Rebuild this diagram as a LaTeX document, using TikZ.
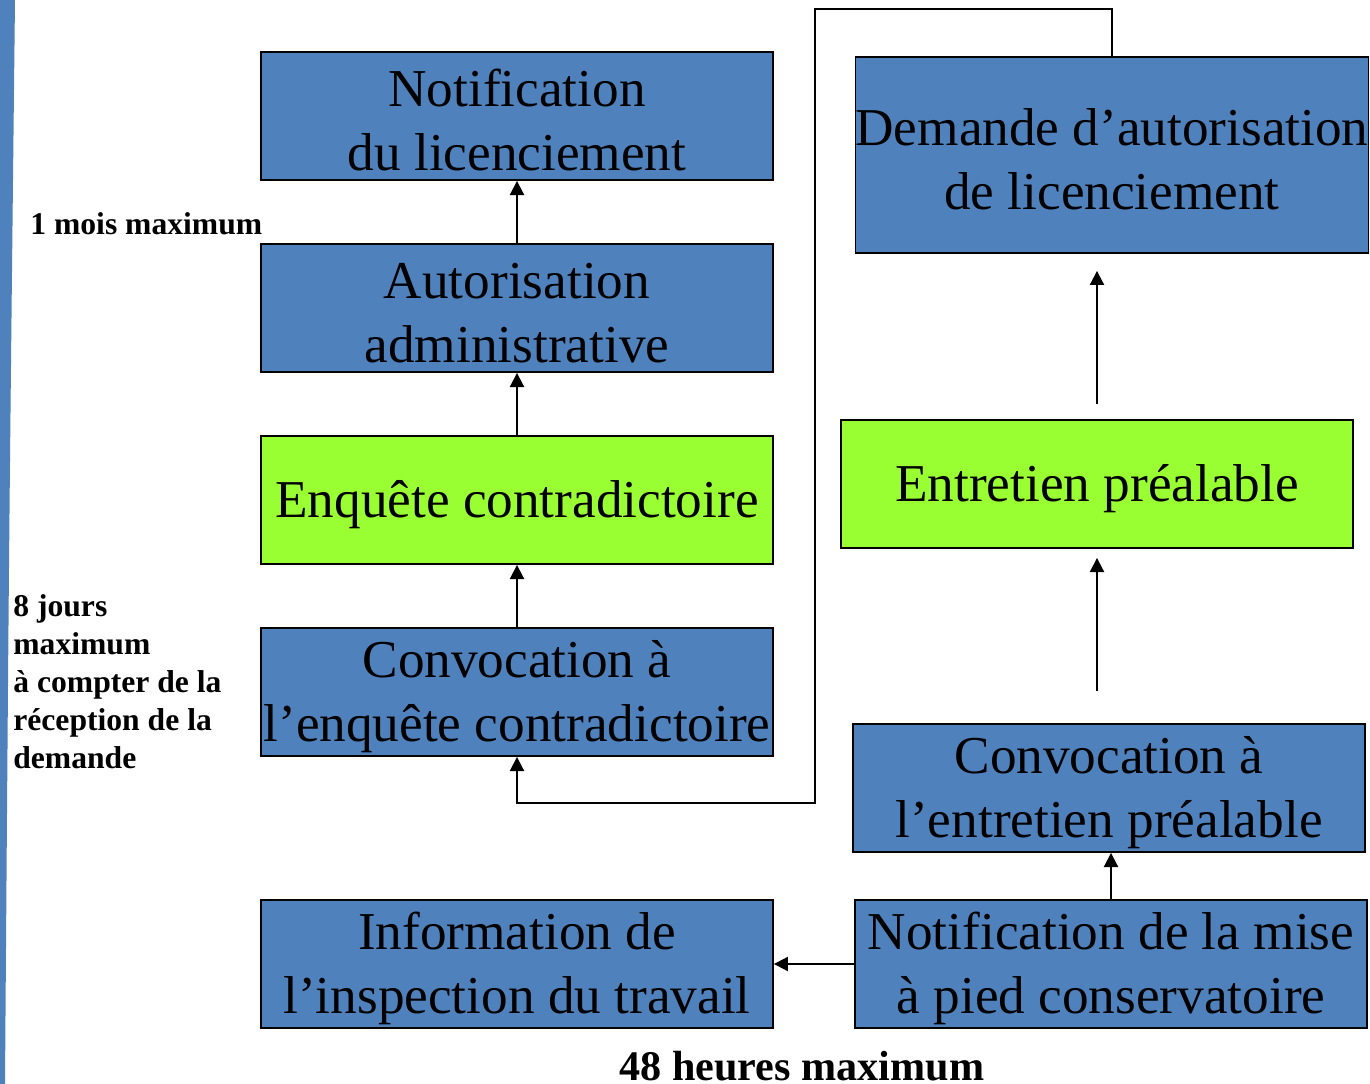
\documentclass[tikz,border=0pt]{standalone}
\usepackage{fontspec}
\setmainfont{Liberation Serif}
\usetikzlibrary{positioning,arrows.meta}
\definecolor{boxblue}{RGB}{79,129,189}
\definecolor{boxgreen}{RGB}{153,255,51}
\newcommand{\boxfont}{\fontsize{30.3}{36.4}\selectfont}
\newcommand{\notefont}{\bfseries\fontsize{18}{21.6}\selectfont}
\newcommand{\topstrut}{\rule{0pt}{26pt}}
\tikzset{
  bbox/.style={draw=black,line width=1.1pt,fill=boxblue,minimum width=10.24cm,minimum height=2.56cm,inner sep=0pt,align=center,font=\boxfont},
  gbox/.style={bbox,fill=boxgreen},
  arr/.style={-{Triangle[length=8pt,width=8pt]},line width=1.1pt},
  note/.style={font=\notefont,align=left,inner sep=0pt},
  every picture/.style={x=0.02cm,y=-0.02cm}
}
\begin{document}
\begin{tikzpicture}
  \useasboundingbox (0,0) rectangle (1370,1084);
  \fill[boxblue] (0,0) -- (15,0) .. controls (9,540) .. (5,1084) -- (0,1084) -- cycle;
  % left column
  \node[bbox] (notif) at (517,116) {\topstrut Notification\\du licenciement};
  \node[bbox] (autor) at (517,308) {\topstrut Autorisation\\administrative};
  \node[gbox] (enq) at (517,500) {\topstrut Enquête contradictoire};
  \node[bbox] (convenq) at (517,692) {\topstrut Convocation à\\l’enquête contradictoire};
  \node[bbox] (info) at (517,964) {\topstrut Information de\\l’inspection du travail};
  % right column
  \node[bbox,minimum height=3.92cm] (demande) at (1112,155) {\topstrut Demande d’autorisation\\de licenciement};
  \node[gbox] (entretien) at (1097,484) {\topstrut Entretien préalable};
  \node[bbox] (conventr) at (1109,788) {\topstrut Convocation à\\l’entretien préalable};
  \node[bbox] (miseap) at (1111,964) {\topstrut Notification de la mise\\à pied conservatoire};
  % delays
  \node[note,anchor=west] (lmois) at (30,224) {1 mois maximum};
  \node[note,anchor=west] (ljours) at (13,682) {8 jours\\maximum\\à compter de la\\réception de la\\demande};
  \node[note,font=\bfseries\fontsize{24}{28}\selectfont,anchor=base] (lheures) at (802,1080) {48 heures maximum};
  % connectors
  \coordinate (ctop) at (815,9);
  \coordinate (cbot) at (815,803);
  \draw[arr] (autor) -- (notif);
  \draw[arr] (enq) -- (autor);
  \draw[arr] (convenq) -- (enq);
  \draw[arr] (demande.north) |- (ctop) -- (cbot) -| (convenq.south);
  \draw[arr] (miseap.west) -- (info.east);
  \draw[arr] (miseap.north) -- (miseap.north |- conventr.south);
  \draw[arr,shorten <=0.64cm,shorten >=0.18cm] (entretien.south |- conventr.north) -- (entretien.south);
  \draw[arr,shorten <=0.3cm,shorten >=0.34cm] (entretien.north) -- (entretien.north |- demande.south);
\end{tikzpicture}
\end{document}
